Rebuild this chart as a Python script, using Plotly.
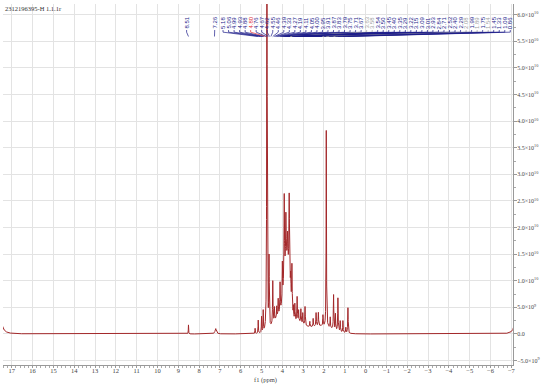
import numpy as np
import plotly.graph_objects as go

# spectrum peaks (ppm, height in 1e10, half width in ppm)
peak_ppm = [17.6, -7.25, 8.51, 7.20, 5.31, 5.16, 5.00, 4.92, 4.74, 4.64, 4.46, 4.38, 4.27,
            4.20, 4.11, 4.00, 3.91, 3.83, 3.75, 3.67, 3.60, 3.54, 3.47, 3.40, 3.29, 3.22,
            3.11, 3.02, 2.91, 2.68, 2.52, 2.38, 2.27, 2.05, 1.89, 1.70, 1.54, 1.45, 1.33,
            1.22, 1.09, 0.95, 0.85]
peak_height = [0.5, 0.5, 0.17, 0.10, 0.10, 0.25, 0.30, 0.40, 9.0, 1.3, 0.8, 0.25, 0.2,
               0.3, 0.55, 0.7, 1.6, 0.9, 0.5, 1.6, 0.4, 0.85, 0.2, 0.3, 0.45, 0.2,
               0.25, 0.2, 0.35, 0.1, 0.15, 0.25, 0.25, 0.2, 3.7, 0.2, 0.65, 0.3, 0.62,
               0.2, 0.22, 0.1, 0.48]
peak_width = [0.1, 0.08, 0.008, 0.04, 0.01, 0.01, 0.01, 0.01, 0.012, 0.012, 0.012, 0.01, 0.01,
              0.01, 0.012, 0.012, 0.014, 0.014, 0.014, 0.016, 0.014, 0.014, 0.01, 0.01, 0.012, 0.01,
              0.01, 0.01, 0.012, 0.01, 0.01, 0.012, 0.012, 0.01, 0.01, 0.01, 0.012, 0.01, 0.012,
              0.01, 0.01, 0.01, 0.012]

# broad underlying humps (ppm, height in 1e10, sigma ppm)
hump_ppm = [3.78, 4.1, 3.3, 2.2]
hump_height = [1.1, 0.35, 0.2, 0.15]
hump_sigma = [0.13, 0.3, 0.3, 0.6]

# peak picking labels
label_vals = [8.51, 7.26,
              5.18, 5.06, 4.99, 4.93, 4.88, 4.80, 4.76, 4.67, 4.62, 4.55, 4.46, 4.39, 4.33,
              4.27, 4.19, 4.11, 4.05, 4.00, 3.95, 3.91, 3.87, 3.83, 3.79, 3.75, 3.71, 3.67,
              3.63, 3.58, 3.54, 3.50, 3.45, 3.40, 3.35, 3.29, 3.22, 3.15, 3.09, 3.01, 2.93,
              2.84, 2.71, 2.52, 2.40, 2.29, 2.08, 1.99, 1.89, 1.75, 1.54, 1.45, 1.33, 1.09, 0.86]
red_labels = [4.80]
gray_labels = [3.63, 3.58, 2.08, 1.89, 1.54]

y_ticks = [-0.5, 0.0, 0.5, 1.0, 1.5, 2.0, 2.5, 3.0, 3.5, 4.0, 4.5, 5.0, 5.5, 6.0]


def tick_text(v):
    if v == 0:
        return "0.0"
    if abs(v) < 1:
        s = "%.1f×10<sup>9</sup>" % (v * 10)
    else:
        s = "%.1f×10<sup>10</sup>" % v
    return s.replace("-", "−")


ppm = np.linspace(17.45, -7.3, 16000)
spec = np.zeros_like(ppm)
for p, h, w in zip(peak_ppm, peak_height, peak_width):
    spec += h * w ** 2 / ((ppm - p) ** 2 + w ** 2)
for p, h, s in zip(hump_ppm, hump_height, hump_sigma):
    spec += h * np.exp(-0.5 * ((ppm - p) / s) ** 2)

fig = go.Figure()
fig.add_trace(go.Scatter(x=np.round(ppm, 4), y=np.round(spec * 1e10, -6), mode="lines",
                         line=dict(color="#a3282a", width=1), hoverinfo="skip"))

# label positions spread across the top
dense = label_vals[2:]
lab_x = [8.60, 7.25] + list(np.linspace(6.85, -6.95, len(dense)))
y_top, y_txt, y_a, y_b = 0.967, 0.928, 0.922, 0.91
for lx, v in zip(lab_x, label_vals):
    col = "#1c1c8a"
    if v in red_labels:
        col = "#e0303a"
    elif v in gray_labels:
        col = "#a0a0a0"
    fig.add_annotation(x=lx, y=y_top, xref="x", yref="paper", text="%.2f" % v,
                       textangle=-90, showarrow=False, xanchor="center", yanchor="top",
                       borderpad=0,
                       font=dict(size=6, color=col, family="Liberation Sans"))
    fig.add_trace(go.Scatter(x=[lx, lx, v], y=[y_txt, y_a, y_b], yaxis="y2", mode="lines",
                             line=dict(color=col, width=0.7), hoverinfo="skip"))

fig.add_annotation(x=0, y=1, xref="paper", yref="paper", text="2312196395-H 1.1.1r",
                   showarrow=False, xanchor="left", yanchor="top", yshift=1,
                   font=dict(size=6.5, color="#333", family="Liberation Serif"))
fig.add_annotation(x=0.514, y=0, xref="paper", yref="paper", text="f1 (ppm)",
                   showarrow=False, xanchor="center", yanchor="top", yshift=-10,
                   borderpad=0,
                   font=dict(size=6.5, color="#444", family="Liberation Serif"))

fig.update_layout(
    width=550, height=386,
    margin=dict(l=3, r=37, t=4, b=21),
    plot_bgcolor="white", paper_bgcolor="white",
    showlegend=False,
    font=dict(family="Liberation Serif", size=6.5, color="#444"),
    xaxis=dict(range=[17.42, -7.08], tickmode="linear", tick0=0, dtick=1,
               showgrid=True, gridcolor="#e3e3e3", gridwidth=1, zeroline=False,
               showline=True, linecolor="#999", linewidth=1,
               ticks="outside", ticklen=2, tickcolor="#999", ticklabelstandoff=-3,
               minor=dict(dtick=0.2, ticks="outside", ticklen=2, tickcolor="#aaa", showgrid=False)),
    yaxis=dict(range=[-0.583e10, 6.2e10], side="right", tickvals=[v * 1e10 for v in y_ticks],
               ticktext=[tick_text(v) for v in y_ticks], tickfont=dict(size=6),
               showgrid=True, gridcolor="#e3e3e3", gridwidth=1, zeroline=False,
               showline=True, linecolor="#999", linewidth=1,
               ticks="outside", ticklen=3, tickcolor="#999", ticklabelstandoff=-1,
               minor=dict(tickvals=[(v + 0.25) * 1e10 for v in y_ticks], ticks="outside",
                          ticklen=2, tickcolor="#aaa", showgrid=False)),
    yaxis2=dict(range=[0, 1], overlaying="y", visible=False),
)

# page body has a default margin; drop it so the figure fills the window
fig.write_html("out.html", config={"displayModeBar": False},
               post_script="document.body.style.margin='0';document.body.style.overflow='hidden';")
